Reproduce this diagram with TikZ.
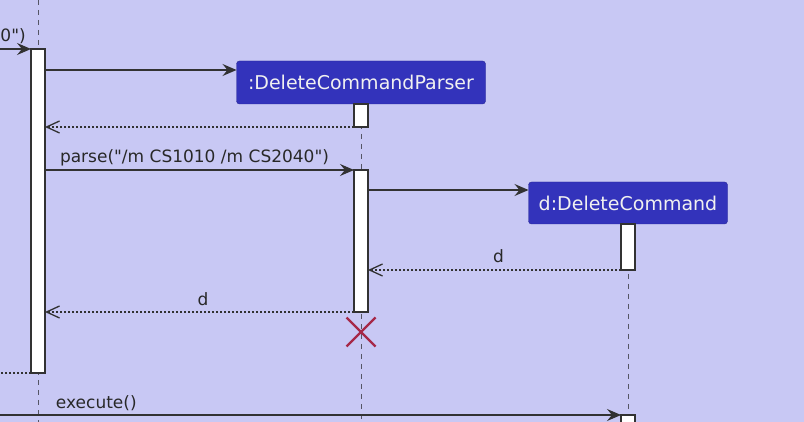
\documentclass[tikz,border=0pt]{standalone}
\usepackage{fontspec}
\setmainfont{DejaVu Sans}[Ligatures=TeXOff]
\usetikzlibrary{arrows.meta}
\definecolor{bg}{RGB}{200,200,244}
\definecolor{boxfill}{RGB}{51,51,187}
\definecolor{boxline}{RGB}{40,40,150}
\definecolor{ink}{RGB}{50,50,50}
\definecolor{lifecol}{RGB}{85,85,100}
\definecolor{xcol}{RGB}{166,40,72}
\tikzset{
  lifeline/.style={draw=lifecol, line width=0.9pt, dash pattern=on 5pt off 5pt},
  actbox/.style={draw=ink, fill=white, line width=1.2pt, minimum width=14pt, inner sep=0pt, outer sep=0pt},
  partbox/.style={draw=boxline, fill=boxfill, rounded corners=3pt, text=white!94!black, inner sep=0pt, outer sep=0pt, font=\fontsize{19}{22}\selectfont},
  msg/.style={draw=ink, line width=1.2pt, -{Stealth[length=14pt,width=12pt,inset=5pt]}},
  ret/.style={draw=ink, line width=1.1pt, dash pattern=on 2pt off 2pt, -{Straight Barb[length=13pt,width=12pt,line width=1.3pt]}},
  retline/.style={draw=ink, line width=1.1pt, dash pattern=on 2pt off 2pt},
  lbl/.style={text=ink!80!black, inner sep=0pt, outer sep=0pt, font=\fontsize{17}{20}\selectfont},
  destroy/.style={minimum size=29pt, inner sep=0pt, outer sep=0pt}
}
\begin{document}
\begin{tikzpicture}[x=1pt,y=-1pt]
\fill[bg] (0,0) rectangle (804,422);
\useasboundingbox (0,0) rectangle (804,422);
\clip (0,0) rectangle (804,422);

% helper coordinates
\coordinate (l1top) at (38,0);
\coordinate (bot) at (0,422);
\coordinate (y70) at (0,70);
\coordinate (y170) at (0,170);
\coordinate (y190) at (0,190);
\coordinate (in0) at (0,49);
\coordinate (out0) at (0,373);
\coordinate (in1) at (0,415);

% participants
\node[partbox, minimum width=249pt, minimum height=43pt] (parser) at (361,82.5) {:DeleteCommandParser};
\node[partbox, minimum width=199pt, minimum height=42pt] (cmd) at (628,203) {d:DeleteCommand};

% lifelines
\draw[lifeline] (l1top) -- (l1top |- bot);
\draw[lifeline] (parser.south) -- (parser.south |- bot);
\draw[lifeline] (cmd.south) -- (cmd.south |- bot);

% activations
\node[actbox, minimum height=324pt] (act1) at (38,211) {};
\node[actbox, minimum height=23pt] (act2a) at (361,115.5) {};
\node[actbox, minimum height=142pt] (act2b) at (361,241) {};
\node[actbox, minimum height=46pt] (act3a) at (628,247) {};
\node[actbox, minimum height=20pt] (act3b) at (628,425) {};

% messages
\draw[msg] (in0) -- (act1.north west);
\node[lbl, anchor=base west] (l0) at (0.5,42) {0")};
\draw[msg] (act1.east |- y70) -- (parser.west |- y70);
\draw[ret] (act2a.south west) -- (act1.east |- act2a.south west);
\draw[msg] (act1.east |- y170) -- (act2b.north west);
\node[lbl, anchor=base west] (lparse) at (60,163) {parse("/m CS1010 /m CS2040")};
\draw[msg] (act2b.east |- y190) -- (cmd.west |- y190);
\draw[ret] (act3a.south west) -- (act2b.east |- act3a.south west);
\node[lbl, anchor=base west] (ld1) at (493,263) {d};
\draw[ret] (act2b.south west) -- (act1.east |- act2b.south west);
\node[lbl, anchor=base west] (ld2) at (197.5,306) {d};
\draw[retline] (act1.south west) -- (out0);
\draw[msg] (in1) -- (act3b.north west);
\node[lbl, anchor=base west] (lexec) at (56,408) {execute()};

% destroy mark
\node[destroy] (xmark) at (361,332) {};
\draw[xcol, line width=2.4pt] (xmark.north west) -- (xmark.south east) (xmark.north east) -- (xmark.south west);
\end{tikzpicture}
\end{document}
